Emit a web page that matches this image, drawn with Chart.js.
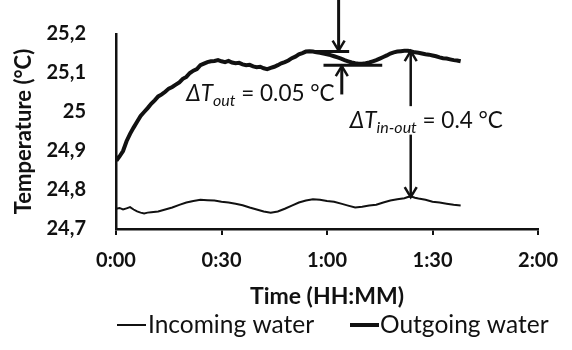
<!DOCTYPE html>
<html>
<head>
<meta charset="utf-8">
<script src="https://cdn.jsdelivr.net/npm/chart.js@4"></script>
<style>
  body { margin: 0; background: #fff; }
</style>
</head>
<body>
<canvas id="tempChart" width="572" height="350"></canvas>
<script>
(function () {
    const xTickLabels = ['0:00', '0:30', '1:00', '1:30', '2:00'];
    const yTickLabels = ['24,7', '24,8', '24,9', '25', '25,1', '25,2'];
    const seriesNames = ['Incoming water', 'Outgoing water'];

    // minutes since start, temperature in °C
    const outTime = [0, 0.5, 1, 2, 3, 4, 5, 6, 7, 8, 9, 10, 11, 12, 13, 14, 15, 16, 17, 18, 19, 20,
        21, 22, 23, 24, 25, 26, 27, 28, 29, 30, 31, 32, 33, 34, 35, 36, 37, 38, 39, 40, 41, 42, 43,
        44, 45, 46, 47, 48, 49, 50, 51, 52, 53, 54, 55, 56, 57, 58, 59, 60, 61, 62, 63, 64, 65, 66,
        67, 68, 69, 70, 71, 72, 73, 74, 75, 76, 77, 78, 79, 80, 81, 82, 83, 84, 85, 86, 87, 88, 89,
        90, 91, 92, 93, 94, 95, 96, 97, 98];
    const outTemp = [24.885, 24.88, 24.886, 24.9, 24.925, 24.944, 24.96, 24.975, 24.99, 25.0, 25.01,
        25.021, 25.03, 25.04, 25.045, 25.052, 25.06, 25.064, 25.07, 25.076, 25.085, 25.09, 25.1,
        25.106, 25.11, 25.12, 25.124, 25.128, 25.13, 25.131, 25.133, 25.13, 25.128, 25.131, 25.127,
        25.125, 25.126, 25.122, 25.12, 25.121, 25.117, 25.115, 25.116, 25.112, 25.11, 25.113, 25.116,
        25.12, 25.125, 25.128, 25.132, 25.138, 25.142, 25.148, 25.151, 25.155, 25.156, 25.155, 25.153,
        25.152, 25.15, 25.148, 25.146, 25.143, 25.14, 25.137, 25.133, 25.13, 25.127, 25.125, 25.124,
        25.124, 25.125, 25.127, 25.13, 25.133, 25.137, 25.141, 25.145, 25.15, 25.153, 25.155, 25.156,
        25.157, 25.157, 25.155, 25.153, 25.152, 25.15, 25.148, 25.147, 25.145, 25.143, 25.14, 25.138,
        25.137, 25.135, 25.133, 25.132, 25.13];

    const inTime = [0, 1, 2, 3, 4, 5, 6, 7, 8, 9, 10, 12, 14, 16, 18, 20, 22, 24, 26, 28, 30, 32, 34,
        36, 38, 40, 42, 44, 46, 48, 50, 52, 54, 56, 58, 60, 62, 64, 66, 68, 70, 72, 74, 76, 78, 80,
        82, 83, 84, 85, 86, 88, 90, 92, 94, 96, 98];
    const inTemp = [24.752, 24.754, 24.75, 24.753, 24.756, 24.75, 24.745, 24.742, 24.74, 24.742,
        24.743, 24.745, 24.75, 24.755, 24.762, 24.768, 24.772, 24.775, 24.774, 24.773, 24.77, 24.768,
        24.765, 24.761, 24.755, 24.75, 24.745, 24.742, 24.745, 24.752, 24.76, 24.768, 24.773, 24.776,
        24.775, 24.772, 24.77, 24.765, 24.76, 24.755, 24.757, 24.76, 24.762, 24.768, 24.773, 24.776,
        24.779, 24.782, 24.783, 24.78, 24.778, 24.775, 24.77, 24.768, 24.765, 24.762, 24.76];

    const toPoints = (xs, ys) => xs.map((t, i) => ({ x: t, y: ys[i] }));

    const fontFamily = 'Lato, "Open Sans", sans-serif';
    const ink = '#111';

    // arrows, bars and delta labels, placed in data units
    const annotations = {
        afterDraw(chart) {
            const { ctx, scales: { x, y } } = chart;
            const px = v => x.getPixelForValue(v);
            const py = v => y.getPixelForValue(v);

            ctx.save();
            ctx.strokeStyle = ink;
            ctx.fillStyle = ink;
            ctx.lineCap = 'butt';

            function line(x1, y1, x2, y2, w) {
                ctx.lineWidth = w;
                ctx.beginPath();
                ctx.moveTo(x1, y1);
                ctx.lineTo(x2, y2);
                ctx.stroke();
            }
            function head(xp, yp, dir) {
                ctx.lineWidth = 2.5;
                ctx.beginPath();
                ctx.moveTo(xp - 6, yp - dir * 10);
                ctx.lineTo(xp, yp);
                ctx.lineTo(xp + 6, yp - dir * 10);
                ctx.stroke();
            }

            // delta out bars
            line(px(53.5), py(25.155), px(66.3), py(25.155), 3);
            line(px(59), py(25.12), px(75.7), py(25.12), 3);
            // down arrow above
            const xa = px(63.3);
            line(xa, 0, xa, py(25.155) - 1, 3);
            head(xa, py(25.155) - 1, 1);
            // up arrow below
            const xb = px(64.2);
            line(xb, py(25.045), xb, py(25.12) + 1, 3);
            head(xb, py(25.12) + 1, -1);

            // delta in-out arrow
            const xc = px(83.8);
            line(xc, py(25.156), xc, py(25.015), 2.5);
            head(xc, py(25.156), -1);
            line(xc, py(24.942), xc, py(24.782), 2.5);
            head(xc, py(24.782), 1);

            function deltaLabel(xp, yp, sub, rest) {
                ctx.textBaseline = 'alphabetic';
                ctx.textAlign = 'left';
                ctx.font = 'italic 22.5px ' + fontFamily;
                ctx.fillText('\u0394T', xp, yp);
                let cx = xp + ctx.measureText('\u0394T').width;
                ctx.font = 'italic 16px ' + fontFamily;
                ctx.fillText(sub, cx, yp + 5);
                cx += ctx.measureText(sub).width;
                ctx.font = '22.5px ' + fontFamily;
                ctx.fillText(rest, cx, yp);
            }
            deltaLabel(px(20), py(25.028), 'out', ' = 0.05 \u00B0C');
            deltaLabel(px(66.5), py(24.958), 'in-out', ' = 0.4 \u00B0C');

            // legend
            const ly = 325;
            ctx.font = '24.5px ' + fontFamily;
            ctx.textBaseline = 'middle';
            line(117, ly, 146, ly, 2);
            ctx.fillText(seriesNames[0], 148, ly);
            line(350, ly, 379, ly, 4);
            ctx.fillText(seriesNames[1], 380, ly);
            ctx.restore();
        }
    };

    const myChart = new Chart(document.getElementById('tempChart'), {
        type: 'line',
        data: {
            datasets: [{
                label: seriesNames[0],
                data: toPoints(inTime, inTemp),
                borderColor: ink,
                borderWidth: 2,
                pointRadius: 0,
                tension: 0
            }, {
                label: seriesNames[1],
                data: toPoints(outTime, outTemp),
                borderColor: ink,
                borderWidth: 4,
                pointRadius: 0,
                tension: 0
            }]
        },
        options: {
            responsive: false,
            animation: false,
            devicePixelRatio: 1,
            layout: { padding: { top: 24, right: 25, left: 0, bottom: 38 } },
            scales: {
                x: {
                    type: 'linear',
                    min: 0,
                    max: 120,
                    afterFit: s => { s.height = 83; },
                    ticks: {
                        stepSize: 30,
                        padding: 14,
                        color: ink,
                        font: { family: fontFamily, size: 20, weight: 'bold' },
                        callback: (v, i) => xTickLabels[i]
                    },
                    grid: { drawOnChartArea: false, drawTicks: true, tickLength: 6, color: ink, lineWidth: 2 },
                    border: { color: ink, width: 2.5 },
                    title: {
                        display: true,
                        text: 'Time (HH:MM)',
                        color: ink,
                        padding: { top: 0, bottom: 2 },
                        font: { family: fontFamily, size: 23, weight: 'bold' }
                    }
                },
                y: {
                    min: 24.7,
                    max: 25.2,
                    afterFit: s => { s.width = 116; },
                    ticks: {
                        stepSize: 0.1,
                        padding: 22,
                        color: ink,
                        font: { family: fontFamily, size: 20, weight: 'bold' },
                        callback: (v, i) => yTickLabels[i]
                    },
                    grid: { display: false },
                    border: { color: ink, width: 2.5 },
                    title: {
                        display: true,
                        text: 'Temperature (\u00B0C)',
                        color: ink,
                        padding: { top: 11, bottom: 0 },
                        font: { family: fontFamily, size: 22, weight: 'bold' }
                    }
                }
            },
            plugins: {
                legend: { display: false },
                tooltip: { enabled: false }
            }
        },
        plugins: [annotations]
    });
})();
</script>
</body>
</html>
